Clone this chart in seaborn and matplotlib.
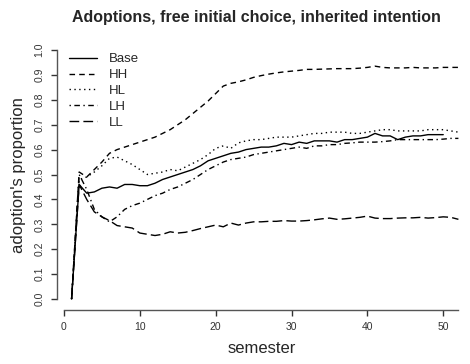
import matplotlib
matplotlib.use("Agg")
import matplotlib.pyplot as plt
import seaborn as sns
import pandas as pd

# adoption proportion per semester for each scenario
base = [0, 0.46, 0.425, 0.43, 0.445, 0.45, 0.445, 0.46, 0.46, 0.455,
        0.455, 0.465, 0.48, 0.49, 0.50, 0.51, 0.52, 0.535, 0.555, 0.565,
        0.575, 0.585, 0.59, 0.60, 0.605, 0.61, 0.61, 0.615, 0.625, 0.62,
        0.63, 0.625, 0.635, 0.635, 0.635, 0.63, 0.64, 0.64, 0.645, 0.65,
        0.665, 0.655, 0.655, 0.64, 0.65, 0.655, 0.655, 0.66, 0.66, 0.66]
hh = [0, 0.51, 0.49, 0.52, 0.55, 0.585, 0.60, 0.61, 0.62, 0.63,
      0.64, 0.65, 0.665, 0.68, 0.70, 0.72, 0.745, 0.77, 0.795, 0.825,
      0.855, 0.866, 0.872, 0.88, 0.89, 0.897, 0.903, 0.908, 0.912, 0.915,
      0.918, 0.922, 0.922, 0.923, 0.924, 0.925, 0.925, 0.925, 0.927, 0.93,
      0.935, 0.93, 0.928, 0.928, 0.928, 0.93, 0.928, 0.928, 0.928, 0.93,
      0.93, 0.93]
hl = [0, 0.48, 0.49, 0.51, 0.535, 0.565, 0.57, 0.555, 0.54, 0.52,
      0.50, 0.505, 0.51, 0.52, 0.515, 0.53, 0.545, 0.56, 0.58, 0.605,
      0.615, 0.605, 0.627, 0.635, 0.64, 0.64, 0.645, 0.65, 0.65, 0.65,
      0.655, 0.66, 0.665, 0.665, 0.67, 0.67, 0.67, 0.665, 0.665, 0.67,
      0.675, 0.68, 0.68, 0.675, 0.675, 0.675, 0.675, 0.68, 0.68, 0.68,
      0.675, 0.67]
lh = [0, 0.50, 0.44, 0.36, 0.33, 0.31, 0.33, 0.36, 0.375, 0.385,
      0.40, 0.415, 0.425, 0.44, 0.45, 0.465, 0.48, 0.50, 0.52, 0.535,
      0.55, 0.56, 0.565, 0.57, 0.58, 0.585, 0.59, 0.595, 0.60, 0.605,
      0.61, 0.605, 0.615, 0.615, 0.62, 0.62, 0.625, 0.627, 0.63, 0.63,
      0.63, 0.632, 0.635, 0.64, 0.64, 0.64, 0.64, 0.64, 0.64, 0.642,
      0.645, 0.645]
ll = [0, 0.46, 0.40, 0.35, 0.33, 0.315, 0.295, 0.29, 0.285, 0.265,
      0.26, 0.255, 0.26, 0.27, 0.265, 0.268, 0.275, 0.283, 0.29, 0.297,
      0.29, 0.305, 0.297, 0.305, 0.31, 0.31, 0.312, 0.312, 0.315, 0.313,
      0.313, 0.315, 0.318, 0.322, 0.325, 0.32, 0.322, 0.325, 0.328, 0.333,
      0.325, 0.323, 0.323, 0.325, 0.326, 0.326, 0.328, 0.325, 0.327, 0.33,
      0.328, 0.32]

scenarios = ["Base", "HH", "HL", "LH", "LL"]
series = [base, hh, hl, lh, ll]

rows = []
for name, vals in zip(scenarios, series):
    for i, v in enumerate(vals):
        rows.append({"semester": i + 1, "value": v, "scenario": name})
df = pd.DataFrame(rows)

sns.set_style("white")
plt.rcParams['font.family'] = ['Liberation Sans', 'DejaVu Sans']

fig = plt.figure(figsize=(4.7, 3.64), dpi=100)
ax = fig.add_axes([57 / 470, 54 / 364, 409 / 470, 270 / 364])

# R-like line types: solid, dashed, dotted, dotdash, longdash
dashes = {"Base": "", "HH": (4, 3), "HL": (1, 2.5), "LH": (1, 2.5, 4, 2.5), "LL": (7, 3)}
sns.lineplot(data=df, x="semester", y="value", style="scenario", dashes=dashes,
             color="black", linewidth=1.0, ax=ax)

ax.set_xlim(-0.92, 53.0)
ax.set_ylim(-0.044, 1.04)
ax.set_xticks([0, 10, 20, 30, 40, 50])
ax.set_yticks([i / 10 for i in range(11)])
ax.set_yticklabels([f"{i / 10:.1f}" for i in range(11)], rotation=90, va="center")

for s in ["top", "right"]:
    ax.spines[s].set_visible(False)
ax.spines["left"].set_bounds(0, 1)
ax.spines["bottom"].set_bounds(0, 52)
for s in ["left", "bottom"]:
    ax.spines[s].set_color("#555555")
    ax.spines[s].set_linewidth(1.0)
ax.tick_params(direction="out", length=4, width=1, color="#333333",
               labelsize=7.5, labelcolor="#333333", left=True, bottom=True)
ax.tick_params(axis="both", pad=5)

ax.set_xlabel("semester", fontsize=12, labelpad=6)
ax.set_ylabel("adoption's proportion", fontsize=12, labelpad=6)
ax.set_title("Adoptions, free initial choice, inherited intention",
             fontsize=11.5, fontweight="bold", pad=13, x=0.488)

handles, labels = ax.get_legend_handles_labels()
ax.legend(handles, labels, loc="upper left", bbox_to_anchor=(0.0, 0.995),
          frameon=False, fontsize=9.5, handlelength=2.1, handletextpad=0.9,
          labelspacing=0.27, borderaxespad=0.5)

fig.savefig("out.png", dpi=100)
